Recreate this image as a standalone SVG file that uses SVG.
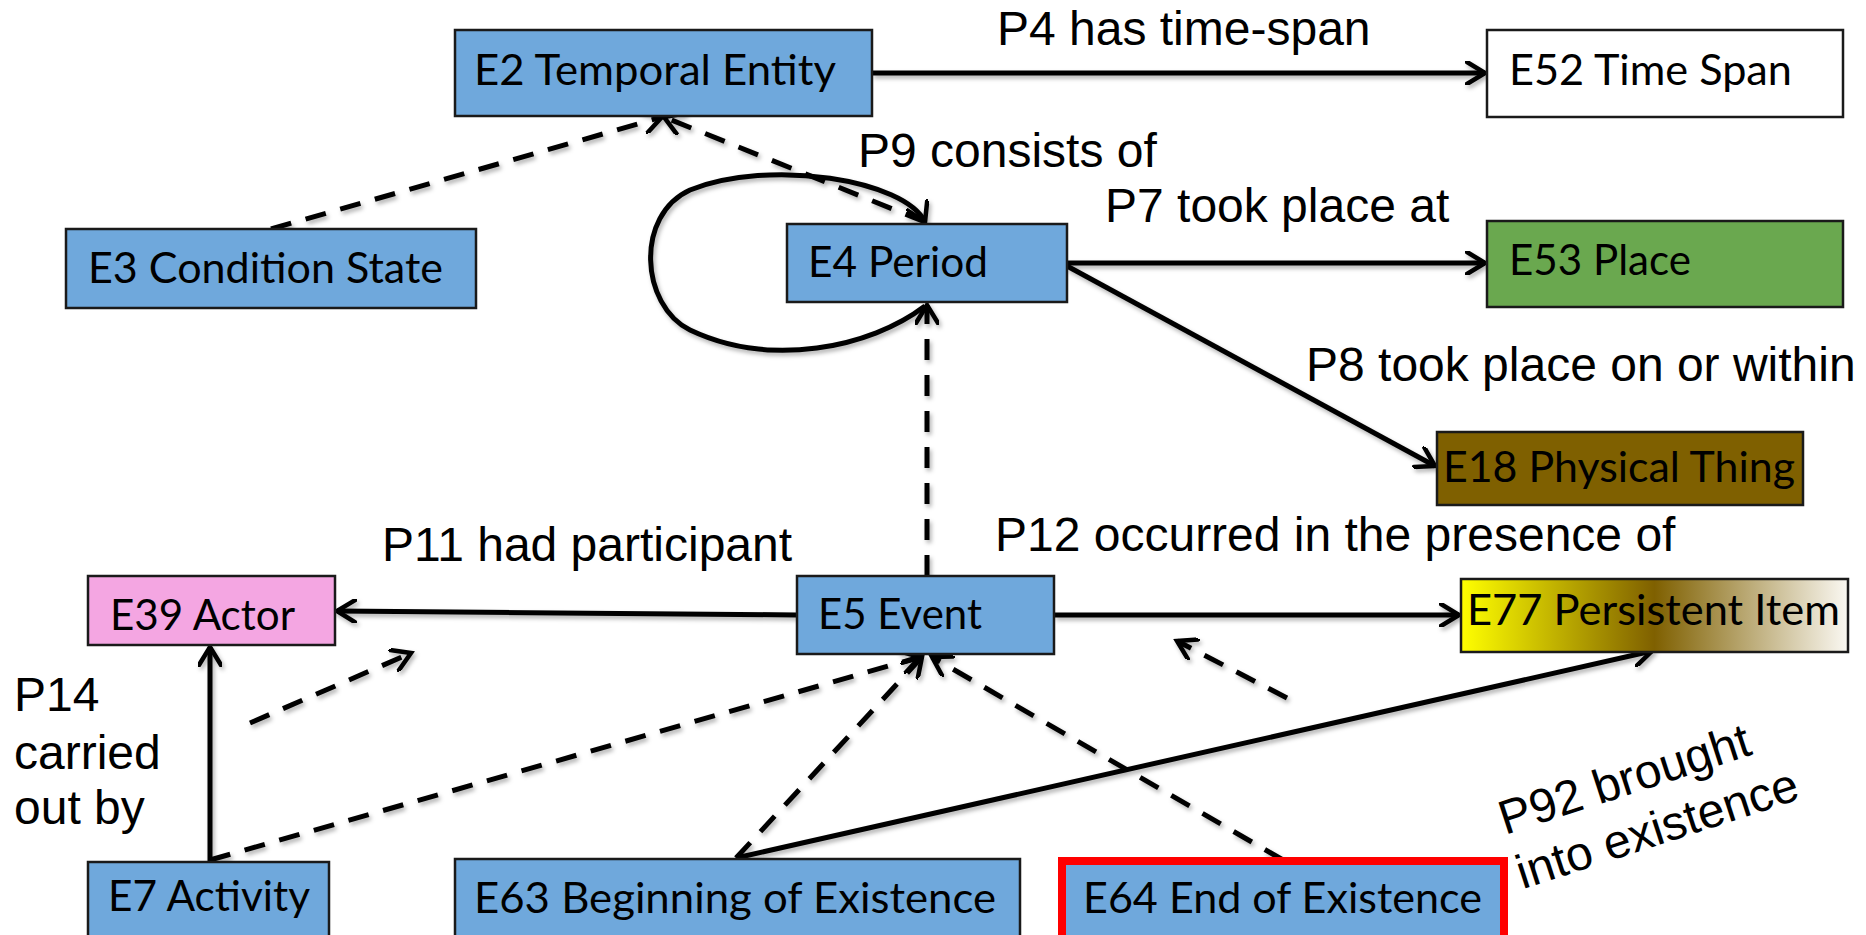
<svg xmlns="http://www.w3.org/2000/svg" width="1866" height="935" viewBox="0 0 1866 935">
<style>
.box{stroke:#1a1a1a;stroke-width:2.5}
.blue{fill:#6FA8DC}
.nt{font-family:Lato,"Open Sans","Noto Sans",sans-serif;font-size:43px;fill:#000}
.lb{font-family:"Liberation Sans",Arial,sans-serif;font-size:48px;fill:#000}
.sl{fill:none;stroke:#000;stroke-width:5;marker-end:url(#arr)}
.dl{fill:none;stroke:#000;stroke-width:5;stroke-dasharray:21 15;marker-end:url(#arr)}
</style>
<defs>
<marker id="arr" markerUnits="userSpaceOnUse" viewBox="0 0 24 24" refX="20" refY="12" markerWidth="24" markerHeight="24" orient="auto">
<path d="M2,1 L20,12 L2,23" fill="none" stroke="#000" stroke-width="4.5" stroke-dasharray="none" stroke-linecap="round" stroke-linejoin="miter"/>
</marker>
<linearGradient id="g77" x1="0" y1="0" x2="1" y2="0">
<stop offset="0" stop-color="#FFFF00"/>
<stop offset="0.5" stop-color="#7F6000"/>
<stop offset="1" stop-color="#FAF8F2"/>
</linearGradient>
<filter id="sh" x="-5%" y="-5%" width="110%" height="110%">
<feDropShadow dx="2" dy="3" stdDeviation="2" flood-color="#000" flood-opacity="0.3"/>
</filter>
</defs>
<rect width="1866" height="935" fill="#fff"/>

<g id="connectors" filter="url(#sh)">
<path class="sl" d="M872,73 L1485,73"/>
<path class="sl" d="M1067,263 L1485,263"/>
<path class="sl" d="M1067,266 L1435,466"/>
<path class="sl" d="M925,306 C870,348 770,368 690,330 C640,305 635,215 690,190 C770,158 905,180 925,222"/>
<path class="dl" d="M927,576 L927,305"/>
<path class="dl" d="M925,222 L664,117"/>
<path class="dl" d="M271,229 L662,117"/>
<path class="sl" d="M797,615 L337,611"/>
<path class="sl" d="M210,862 L210,647"/>
<path class="sl" d="M1054,615 L1459,615"/>
<path class="sl" d="M736,858 L1652,651"/>
<path class="dl" d="M736,858 L922,657"/>
<path class="dl" d="M210,860 L920,657"/>
<path class="dl" d="M1283,860 L932,657"/>
<path class="dl" d="M250,723 L411,653"/>
<path class="dl" d="M1287,698 L1177,641"/>
</g>

<g id="labels">
<text class="lb" x="997" y="45">P4 has time-span</text>
<text class="lb" x="858" y="167">P9 consists of</text>
<text class="lb" x="1105" y="222">P7 took place at</text>
<text class="lb" x="1306" y="381">P8 took place on or within</text>
<text class="lb" x="382" y="561">P11 had participant</text>
<text class="lb" x="995" y="551">P12 occurred in the presence of</text>
<text class="lb" x="14" y="711">P14</text>
<text class="lb" x="14" y="769">carried</text>
<text class="lb" x="14" y="824">out by</text>
<text class="lb" transform="rotate(-18 1505 835)"><tspan x="1505" y="835">P92 brought</tspan><tspan x="1505" y="892">into existence</tspan></text>
</g>

<g id="E2"><rect class="box blue" x="455" y="30" width="417" height="86"/><text class="nt" x="474" y="85" textLength="362" lengthAdjust="spacingAndGlyphs">E2 Temporal Entity</text></g>
<g id="E52"><rect class="box" fill="#fff" x="1487" y="30" width="356" height="87"/><text class="nt" x="1509" y="85" textLength="283" lengthAdjust="spacingAndGlyphs">E52 Time Span</text></g>
<g id="E3"><rect class="box blue" x="66" y="229" width="410" height="79"/><text class="nt" x="88" y="283" textLength="355" lengthAdjust="spacingAndGlyphs">E3 Condition State</text></g>
<g id="E4"><rect class="box blue" x="787" y="224" width="280" height="78"/><text class="nt" x="808" y="277" textLength="180" lengthAdjust="spacingAndGlyphs">E4 Period</text></g>
<g id="E53"><rect class="box" fill="#6AA84F" x="1487" y="221" width="356" height="86"/><text class="nt" x="1509" y="275" textLength="182" lengthAdjust="spacingAndGlyphs">E53 Place</text></g>
<g id="E18"><rect class="box" fill="#7F6000" x="1437" y="432" width="366" height="73"/><text class="nt" x="1443" y="482" textLength="352" lengthAdjust="spacingAndGlyphs">E18 Physical Thing</text></g>
<g id="E39"><rect class="box" fill="#F4A6E2" x="88" y="576" width="247" height="69"/><text class="nt" x="110" y="630" textLength="185" lengthAdjust="spacingAndGlyphs">E39 Actor</text></g>
<g id="E5"><rect class="box blue" x="797" y="576" width="257" height="78"/><text class="nt" x="818" y="629" textLength="164" lengthAdjust="spacingAndGlyphs">E5 Event</text></g>
<g id="E77"><rect class="box" fill="url(#g77)" x="1461" y="579" width="387" height="73"/><text class="nt" x="1467" y="625" textLength="373" lengthAdjust="spacingAndGlyphs">E77 Persistent Item</text></g>
<g id="E7"><rect class="box blue" x="88" y="862" width="241" height="85"/><text class="nt" x="108" y="911" textLength="202" lengthAdjust="spacingAndGlyphs">E7 Activity</text></g>
<g id="E63"><rect class="box blue" x="455" y="859" width="565" height="90"/><text class="nt" x="474" y="913" textLength="522" lengthAdjust="spacingAndGlyphs">E63 Beginning of Existence</text></g>
<g id="E64"><rect class="blue" x="1062" y="861" width="442" height="90" stroke="#FF0000" stroke-width="8"/><text class="nt" x="1083" y="913" textLength="399" lengthAdjust="spacingAndGlyphs">E64 End of Existence</text></g>
</svg>
